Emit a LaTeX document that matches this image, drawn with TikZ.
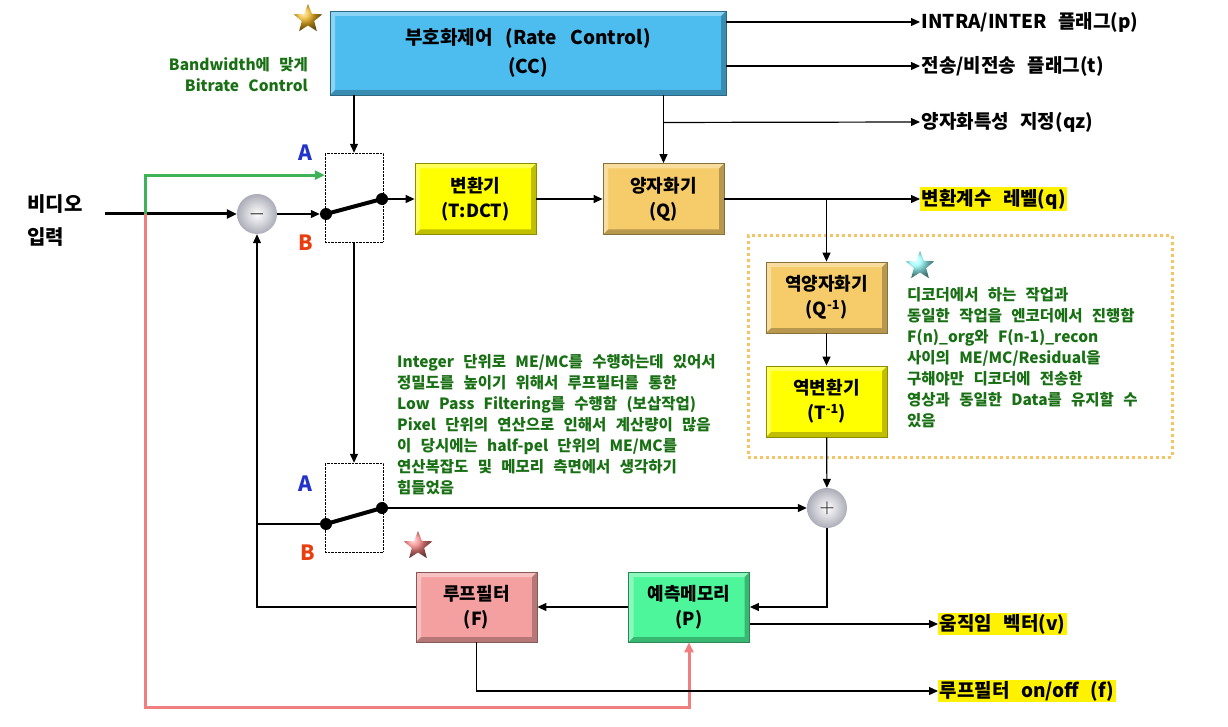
\documentclass[tikz,border=0pt]{standalone}
\usepackage{fontspec}
\setmainfont{Noto Sans CJK KR}
\usetikzlibrary{arrows.meta,positioning,shapes.geometric,calc,shadings}
\definecolor{ccblue}{RGB}{77,189,240}
\definecolor{tyellow}{RGB}{255,255,0}
\definecolor{qgold}{RGB}{246,204,106}
\definecolor{fpink}{RGB}{244,160,160}
\definecolor{pgreen}{RGB}{77,246,154}
\definecolor{notegreen}{RGB}{25,112,20}
\definecolor{selA}{RGB}{35,50,200}
\definecolor{selB}{RGB}{232,62,16}
\definecolor{pathgreen}{RGB}{60,180,85}
\definecolor{pathpink}{RGB}{240,128,128}
\definecolor{dotorange}{RGB}{246,196,100}
\definecolor{stargold}{RGB}{240,180,30}
\newcommand{\widesp}[1]{\spaceskip=#1em plus 0.1em\relax}

\begin{document}
\begin{tikzpicture}[x=1pt, y=-1pt,
    box/.style={rectangle, minimum width=121pt, minimum height=71pt, inner sep=0pt,
                align=center, font=\bfseries\fontsize{18}{25}\selectfont\widesp{0.5},
                fill=#1, draw=#1!55!black, line width=0.8pt,
                path picture={
                  \fill[white, opacity=0.35] (path picture bounding box.north west)
                    -- (path picture bounding box.north east) -- ++(-5pt,-5pt)
                    -- ($(path picture bounding box.north west)+(5pt,-5pt)$)
                    -- ($(path picture bounding box.south west)+(5pt,5pt)$)
                    -- (path picture bounding box.south west) -- cycle;
                  \fill[black, opacity=0.25] (path picture bounding box.south east)
                    -- (path picture bounding box.north east) -- ++(-5pt,-5pt)
                    -- ($(path picture bounding box.south east)+(-5pt,5pt)$)
                    -- ($(path picture bounding box.south west)+(5pt,5pt)$)
                    -- (path picture bounding box.south west) -- cycle;}},
    swbox/.style={rectangle, draw, densely dotted, minimum width=58pt, minimum height=89pt, inner sep=0pt},
    sum/.style={circle, minimum size=40pt, inner sep=0pt, inner color=white, outer color=blue!8!gray!60,
                font=\fontsize{22}{22}\selectfont},
    pin/.style={circle, fill=black, minimum size=12pt, inner sep=0pt},
    lever/.style={line width=4pt},
    arrow/.style={-{Triangle[length=9pt,width=8pt]}, line width=1.2pt},
    outlbl/.style={anchor=west, font=\bfseries\fontsize{19}{22}\selectfont\widesp{0.6}, inner sep=1.5pt},
    hilite/.style={outlbl, fill=yellow},
    note/.style={align=left, text=notegreen, font=\bfseries\fontsize{15.5}{21}\selectfont\widesp{0.6}, inner sep=0pt},
    sellbl/.style={font=\bfseries\fontsize{21}{21}\selectfont},
    starmark/.style={star, star points=5, star point ratio=2.3, minimum size=30pt, inner sep=0pt, shading=ball}
]
\useasboundingbox (0,0) rectangle (1228,727);

% Rate control on top
\node[box=ccblue, minimum width=396pt, minimum height=84pt,
      font=\bfseries\fontsize{19}{29}\selectfont\widesp{0.7}] (cc) at (528,53) {부호화제어 (Rate Control)\\(CC)};
\node[starmark, ball color=stargold] (goldstar) at (308,19) {};
\node[note, anchor=east, align=right] (bwnote) at (308,75) {Bandwidth에 맞게\\Bitrate Control};

% Output flags
\node[outlbl] (flagp) at (920,22) {INTRA/INTER 플래그(p)};
\node[outlbl] (flagt) at (920,66) {전송/비전송 플래그(t)};
\node[outlbl] (qzlbl) at (920,122) {양자화특성 지정(qz)};
\node[hilite] (lvl) at (920,199) {변환계수 레벨(q)};
\node[hilite] (mv) at (938,624) {움직임 벡터(v)};
\node[hilite] (lfonoff) at (938,691) {루프필터 on/off (f)};

% Video input
\node[font=\bfseries\fontsize{20}{33}\selectfont, align=left] (vin) at (55,221) {비디오\\입력};
\coordinate (src) at (105,214);
\coordinate (split) at (145,214);
\coordinate (pinkturn) at (145,707);

% Forward path
\node[sum] (sub) at (257,214) {$-$};
\node[swbox] (sw1) at (354,197.5) {};
\node[pin] (sw1in) at (326,214) {};
\node[pin] (sw1out) at (382,199) {};
\node[sellbl, text=selA] (a1) at (305,153) {A};
\node[sellbl, text=selB] (b1) at (306,243) {B};
\node[box=tyellow] (dct) at (475.5,199) {변환기\\(T:DCT)};
\node[box=qgold] (quant) at (663.5,199) {양자화기\\(Q)};

% Local decoder
\node[draw=dotorange, line width=3pt, dash pattern=on 3pt off 3pt,
      minimum width=424pt, minimum height=221pt] (decbox) at (960,346.5) {};
\node[box=qgold] (iquant) at (826.5,297.5) {역양자화기\\(Q\textsuperscript{-1})};
\node[box=tyellow] (itrans) at (826.5,401.5) {역변환기\\(T\textsuperscript{-1})};
\node[sum] (add) at (827,508) {$+$};
\node[starmark, ball color=cyan!40!white] (cyanstar) at (920,266) {};
\node[note, anchor=north west] (decnote) at (907,287) {디코더에서 하는 작업과\\동일한 작업을 엔코더에서 진행함\\F(n)\_org와 F(n-1)\_recon\\사이의 ME/MC/Residual을\\구해야만 디코더에 전송한\\영상과 동일한 Data를 유지할 수\\있음};

% Prediction loop
\node[swbox] (sw2) at (354,507.5) {};
\node[pin] (sw2in) at (326,524) {};
\node[pin] (sw2out) at (382,508) {};
\node[sellbl, text=selA] (a2) at (305,484) {A};
\node[sellbl, text=selB] (b2) at (308,553) {B};
\node[note, anchor=north west] (lfnote) at (397,354) {Integer 단위로 ME/MC를 수행하는데 있어서\\정밀도를 높이기 위해서 루프필터를 통한\\Low Pass Filtering를 수행함 (보삽작업)\\Pixel 단위의 연산으로 인해서 계산량이 많음\\이 당시에는 half-pel 단위의 ME/MC를\\연산복잡도 및 메모리 측면에서 생각하기\\힘들었음};
\node[starmark, ball color=fpink!80!red] (pinkstar) at (418,546) {};
\node[box=fpink, minimum height=70pt] (lf) at (476.5,607) {루프필터\\(F)};
\node[box=pgreen, minimum height=70pt] (pm) at (689,607) {예측메모리\\(P)};

% Connectors
\draw[arrow, line width=3pt, -{Triangle[length=10pt,width=9pt]}] (src) -- (sub.west);
\draw[pathgreen, line width=3pt, -{Triangle[length=10pt,width=9pt]}] (split) |- ($(sw1.north west)!0.25!(sw1.south west)$);
\draw[pathpink, line width=3pt, -{Triangle[length=10pt,width=9pt]}] (split) -- (pinkturn) -| (pm.south);
\draw[arrow] (sub.east) -- (sw1in.west);
\draw[lever] (sw1in.center) -- (sw1out.center);
\draw[arrow] (sw1out.center) -- (dct.west);
\draw[arrow] (dct) -- (quant);
\draw[arrow] (cc.south -| sw1.north) -- (sw1.north);
\draw[arrow] (cc.south -| quant.north) -- (quant.north);
\coordinate (qztap) at ($(cc.south -| quant.north)!0.4!(quant.north)$);
\draw[arrow] (qztap) -- (qzlbl.west);
\draw[arrow] (cc.east |- flagp.west) -- (flagp.west);
\draw[arrow] (cc.east |- flagt.west) -- (flagt.west);
\draw[arrow] (quant.east) -- (lvl.west);
\coordinate (qtap) at (iquant.north |- quant.east);
\draw[arrow] (qtap) -- (iquant.north);
\draw[arrow] (iquant) -- (itrans);
\draw[arrow] (itrans) -- (add);
\draw[arrow] (sw1.south) -- (sw2.north);
\draw[lever] (sw2in.center) -- (sw2out.center);
\draw[arrow] (sw2out.center) -- (add.west);
\draw[line width=1.2pt] (sw2in.center) -- (sw2in -| sub.south);
\draw[arrow] (add.south) |- (pm.east);
\draw[arrow] (pm.west) -- (lf.east);
\draw[arrow] (lf.west) -| (sub.south);
\draw[arrow] (pm.east |- mv.west) -- (mv.west);
\draw[arrow] (lf.south) |- (lfonoff.west);

\end{tikzpicture}
\end{document}
